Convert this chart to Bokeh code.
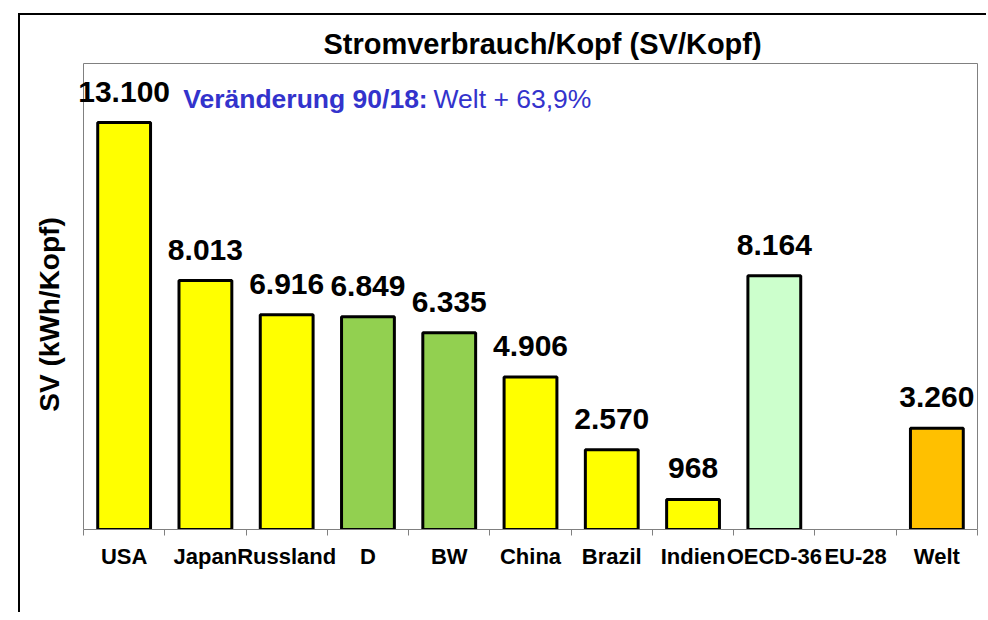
import math
from bokeh.plotting import figure
from bokeh.models import (Range1d, ColumnDataSource, LabelSet, Label,
                          LinearAxis, FixedTicker)
from bokeh.core.properties import value
from bokeh.embed import file_html
from bokeh.resources import INLINE

# ---- data ----
categories = ["USA", "Japan", "Russland", "D", "BW", "China", "Brazil", "Indien",
              "OECD-36", "EU-28", "Welt"]
values = [13100, 8013, 6916, 6849, 6335, 4906, 2570, 968, 8164, None, 3260]
bar_colors = ["#FFFF00", "#FFFF00", "#FFFF00", "#92D050", "#92D050", "#FFFF00",
              "#FFFF00", "#FFFF00", "#CCFFCC", "#FFFFFF", "#FFC000"]
title_text = "Stromverbrauch/Kopf (SV/Kopf)"
y_label = "SV (kWh/Kopf)"
note_bold = "Veränderung 90/18:"
note_rest = "Welt + 63,9%"
y_max = 15000

n = len(categories)
pos, vals, cols, txts = [], [], [], []
for i, (c, v, col) in enumerate(zip(categories, values, bar_colors)):
    if v is None:
        continue
    pos.append(i + 0.5)          # category slot centre
    vals.append(v)
    cols.append(col)
    txts.append(f"{v:,}".replace(",", "."))
src = ColumnDataSource(dict(x=pos, val=vals, color=cols, txt=txts))

FONT = "Liberation Sans"

# ---- geometry (page pixels) ----
CANVAS_X0, CANVAS_Y0 = 0, 0
W, H = 986, 612
AREA_L, AREA_R, AREA_T, AREA_B = 83, 977, 63, 529
px_x = (AREA_R - AREA_L) / n
px_y = (AREA_B - AREA_T) / y_max

def xd(px):
    return (px - AREA_L) / px_x
def yd(py):
    return (AREA_B - py) / px_y

x_start = xd(CANVAS_X0)
x_end = xd(CANVAS_X0 + W)
y_end = yd(CANVAS_Y0)
bottom_border = CANVAS_Y0 + H - AREA_B

p = figure(width=W, height=H,
           x_range=Range1d(x_start, x_end), y_range=Range1d(0, y_end),
           output_backend="svg", toolbar_location=None,
           x_axis_location=None, y_axis_location=None,
           min_border_left=0, min_border_right=0,
           min_border_top=0, min_border_bottom=bottom_border)
# outer chart frame (left and top edges visible in the window)
p.styles = {"background":
            "linear-gradient(#000,#000) 18px 13px / 2px 100% no-repeat, "
            "linear-gradient(#000,#000) 18px 13px / 100% 2px no-repeat, #fff"}
p.background_fill_color = None
p.border_fill_color = None
p.outline_line_color = None
p.grid.visible = False

# plot-area box
p.quad(left=[0], right=[n], bottom=[0], top=[y_max], fill_color=None,
       line_color="#808080", line_width=1)

# category axis: labels at slot centres, ticks at slot boundaries
ax = LinearAxis(ticker=FixedTicker(ticks=[i + 0.5 for i in range(n)],
                                   minor_ticks=list(range(n + 1))))
ax.bounds = (0, n)
ax.major_label_overrides = {i + 0.5: c for i, c in enumerate(categories)}
ax.major_tick_line_color = None
ax.major_tick_out = 0
ax.major_tick_in = 0
ax.minor_tick_line_color = "#808080"
ax.minor_tick_out = 6
ax.minor_tick_in = 0
ax.axis_line_color = "#808080"
ax.axis_line_width = 1
ax.major_label_text_font = FONT
ax.major_label_text_font_style = "bold"
ax.major_label_text_font_size = "22px"
ax.major_label_text_color = "black"
ax.major_label_standoff = 8
p.add_layout(ax, "below")

p.vbar(x="x", top="val", width=0.65, source=src, fill_color="color",
       line_color="black", line_width=3)

labels = LabelSet(x="x", y="val", text="txt", source=src, y_offset=21,
                  text_align="center", text_baseline="alphabetic",
                  text_font=value(FONT), text_font_style="bold",
                  text_font_size="30px", text_color="black")
p.add_layout(labels)

p.add_layout(Label(x=xd(542), y=yd(43), text=title_text, text_align="center",
                   text_baseline="middle", text_font=FONT, text_font_style="bold",
                   text_font_size="29px", text_color="black"))
p.add_layout(Label(x=xd(49), y=yd(314), text=y_label, angle=math.pi / 2,
                   text_align="center", text_baseline="middle", text_font=FONT,
                   text_font_style="bold", text_font_size="28px", text_color="black"))
p.add_layout(Label(x=xd(182.7), y=yd(98.3), text=note_bold, text_align="left",
                   text_baseline="middle", text_font=FONT, text_font_style="bold",
                   text_font_size="26.5px", text_color="#3333CC"))
p.add_layout(Label(x=xd(433), y=yd(98.3), text=note_rest, text_align="left",
                   text_baseline="middle", text_font=FONT, text_font_style="normal",
                   text_font_size="26.5px", text_color="#3333CC"))

open("out.html", "w").write(file_html(p, INLINE))
